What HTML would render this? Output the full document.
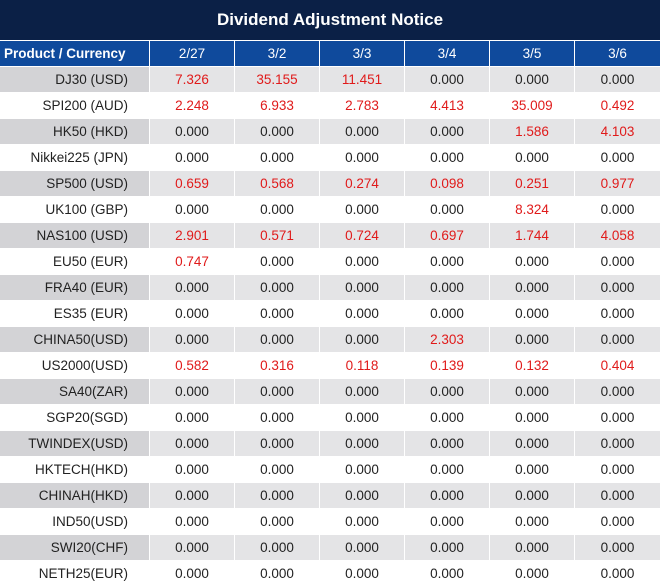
<!DOCTYPE html>
<html><head><meta charset="utf-8"><style>
body{margin:0;background:#fff;width:660px;height:587px;overflow:hidden;font-family:"Liberation Sans","DejaVu Sans",sans-serif;}
.title{height:40px;background:#0b2046;color:#fff;font-weight:bold;font-size:17px;text-align:center;line-height:40px;}
.g{display:grid;grid-template-columns:149px 84px 84px 84px 84px 84px 85px;column-gap:1px;row-gap:1px;margin-top:1px;}
.g div{height:25px;line-height:25px;font-size:13.5px;text-align:center;color:#222;}
.h{background:#0f4a9c;color:#fff!important;}
.h.p{font-weight:bold;text-align:left!important;padding-left:4px;}
.p{text-align:right!important;padding-right:21px;}
.s .p{background:#d3d3d6;} .s div{background:#e4e4e6;}
.r{color:#e01a1a!important;}
</style></head><body>
<div class="title">Dividend Adjustment Notice</div>
<div class="g" id="g">
<div class="h p">Product / Currency</div><div class="h">2/27</div><div class="h">3/2</div><div class="h">3/3</div><div class="h">3/4</div><div class="h">3/5</div><div class="h">3/6</div>
</div>
<script>
var rows=[["DJ30 (USD)","7.326","35.155","11.451","0.000","0.000","0.000"],
["SPI200 (AUD)","2.248","6.933","2.783","4.413","35.009","0.492"],
["HK50 (HKD)","0.000","0.000","0.000","0.000","1.586","4.103"],
["Nikkei225 (JPN)","0.000","0.000","0.000","0.000","0.000","0.000"],
["SP500 (USD)","0.659","0.568","0.274","0.098","0.251","0.977"],
["UK100 (GBP)","0.000","0.000","0.000","0.000","8.324","0.000"],
["NAS100 (USD)","2.901","0.571","0.724","0.697","1.744","4.058"],
["EU50 (EUR)","0.747","0.000","0.000","0.000","0.000","0.000"],
["FRA40 (EUR)","0.000","0.000","0.000","0.000","0.000","0.000"],
["ES35 (EUR)","0.000","0.000","0.000","0.000","0.000","0.000"],
["CHINA50(USD)","0.000","0.000","0.000","2.303","0.000","0.000"],
["US2000(USD)","0.582","0.316","0.118","0.139","0.132","0.404"],
["SA40(ZAR)","0.000","0.000","0.000","0.000","0.000","0.000"],
["SGP20(SGD)","0.000","0.000","0.000","0.000","0.000","0.000"],
["TWINDEX(USD)","0.000","0.000","0.000","0.000","0.000","0.000"],
["HKTECH(HKD)","0.000","0.000","0.000","0.000","0.000","0.000"],
["CHINAH(HKD)","0.000","0.000","0.000","0.000","0.000","0.000"],
["IND50(USD)","0.000","0.000","0.000","0.000","0.000","0.000"],
["SWI20(CHF)","0.000","0.000","0.000","0.000","0.000","0.000"],
["NETH25(EUR)","0.000","0.000","0.000","0.000","0.000","0.000"]];
var h="";
rows.forEach(function(r,i){var s=i%2==0;r.forEach(function(c,j){
var cls=[];if(j==0)cls.push("p");else if(c!="0.000")cls.push("r");
h+='<div class="'+cls.join(" ")+'" style="'+(s?(j==0?'background:#d3d3d6':'background:#e4e4e6'):'')+'">'+c+'</div>';});});
document.getElementById("g").insertAdjacentHTML("beforeend",h);
</script>
</body></html>
